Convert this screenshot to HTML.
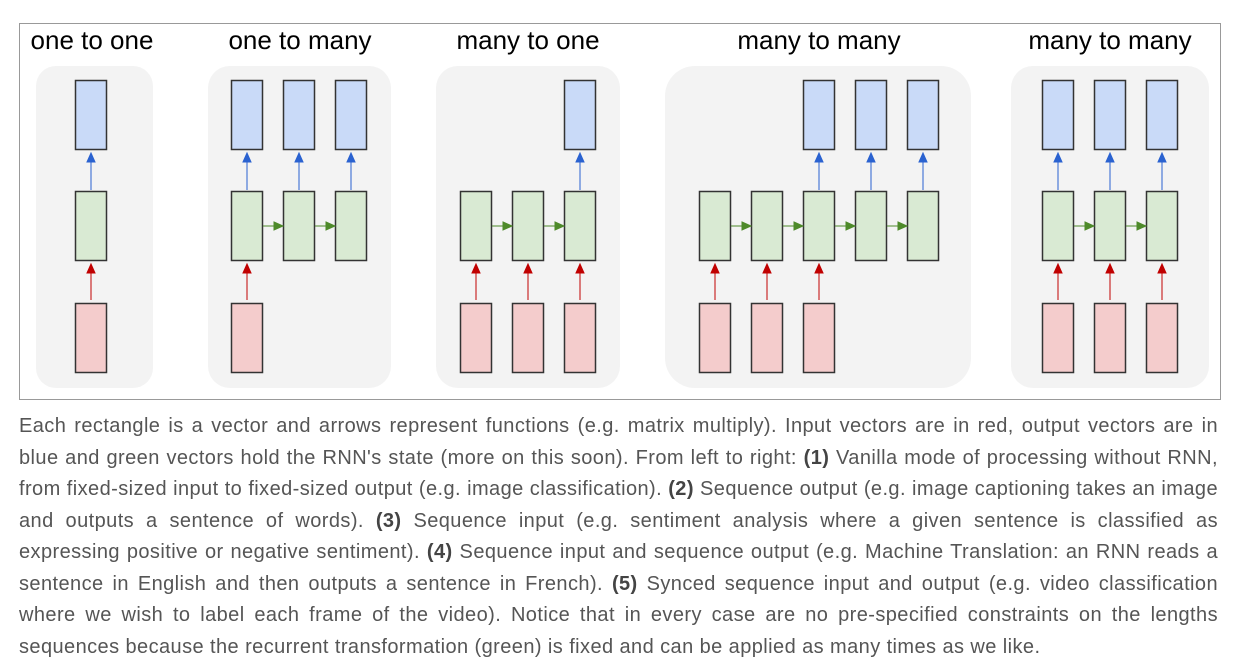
<!DOCTYPE html>
<html><head><style>
body{margin:0;width:1237px;height:672px;background:#fff;overflow:hidden;font-family:"Liberation Sans",Arial,sans-serif}
#fig{position:absolute;left:0;top:0}
#txt{position:absolute;left:19px;top:411px;width:1199px;font-size:20px;letter-spacing:0.42px;line-height:31.5px;color:#555}
#txt div{text-align:justify;text-align-last:justify;white-space:nowrap;height:31.5px}
#txt div.l{text-align-last:left}
b{color:#444}
</style></head><body>
<svg id="fig" width="1237" height="405" xmlns="http://www.w3.org/2000/svg">
<rect x="19.5" y="23.5" width="1201" height="376" fill="#fff" stroke="#999"/>
<g font-size="26" fill="#000" text-anchor="middle">
<text x="92" y="49">one to one</text>
<text x="300" y="49">one to many</text>
<text x="528" y="49">many to one</text>
<text x="819" y="49">many to many</text>
<text x="1110" y="49">many to many</text>
</g>
<g fill="#f3f3f3">
<rect x="36" y="66" width="117" height="322" rx="20"/>
<rect x="208" y="66" width="183" height="322" rx="22"/>
<rect x="436" y="66" width="184" height="322" rx="22"/>
<rect x="665" y="66" width="306" height="322" rx="30"/>
<rect x="1011" y="66" width="198" height="322" rx="22"/>
</g>
<g id="g" stroke="#333" stroke-width="1.5">
</g>
<script>
(function(){
var s=document.getElementById('g'),NS='http://www.w3.org/2000/svg';
function r(x,y,c){var e=document.createElementNS(NS,'rect');e.setAttribute('x',x+.5);e.setAttribute('y',y+.5);e.setAttribute('width',31);e.setAttribute('height',69);e.setAttribute('fill',c);s.appendChild(e);}
function p(d,c){var e=document.createElementNS(NS,'path');e.setAttribute('d',d);e.setAttribute('fill',c);e.setAttribute('stroke',c);e.setAttribute('stroke-width','1');s.appendChild(e);}
function up(x,y1,y2,c){p('M'+x+','+y1+'V'+(y2+8),c);p('M'+(x-4)+','+(y2+9)+'L'+x+','+y2+'L'+(x+4)+','+(y2+9)+'Z',c);}
function rt(x1,x2,y){p('M'+x1+','+y+'H'+(x2-8),'#4e8a2a');p('M'+(x2-9)+','+(y-4)+'L'+x2+','+y+'L'+(x2-9)+','+(y+4)+'Z','#4e8a2a');}
var B='#c9daf8',G='#d9ead3',R='#f4cccc';
function col(x,b,rd){r(x,191,G);if(b){r(x,80,B);up(x+16,190,153,'#2a62d0');}if(rd){r(x,303,R);up(x+16,300,264,'#c00000');}}
col(75,1,1);
[231,283,335].forEach(function(x,i){col(x,1,i==0);if(i)rt(x-20,x,226);});
[460,512,564].forEach(function(x,i){col(x,i==2,1);if(i)rt(x-20,x,226);});
[699,751,803,855,907].forEach(function(x,i){col(x,i>=2,i<=2);if(i)rt(x-20,x,226);});
[1042,1094,1146].forEach(function(x,i){col(x,1,1);if(i)rt(x-20,x,226);});
})();
</script>
</svg>
<div id="txt">
<div>Each rectangle is a vector and arrows represent functions (e.g. matrix multiply). Input vectors are in red, output vectors are in</div>
<div>blue and green vectors hold the RNN's state (more on this soon). From left to right: <b>(1)</b> Vanilla mode of processing without RNN,</div>
<div>from fixed-sized input to fixed-sized output (e.g. image classification). <b>(2)</b> Sequence output (e.g. image captioning takes an image</div>
<div>and outputs a sentence of words). <b>(3)</b> Sequence input (e.g. sentiment analysis where a given sentence is classified as</div>
<div>expressing positive or negative sentiment). <b>(4)</b> Sequence input and sequence output (e.g. Machine Translation: an RNN reads a</div>
<div>sentence in English and then outputs a sentence in French). <b>(5)</b> Synced sequence input and output (e.g. video classification</div>
<div>where we wish to label each frame of the video). Notice that in every case are no pre-specified constraints on the lengths</div>
<div class="l">sequences because the recurrent transformation (green) is fixed and can be applied as many times as we like.</div>
</div>
</body></html>
